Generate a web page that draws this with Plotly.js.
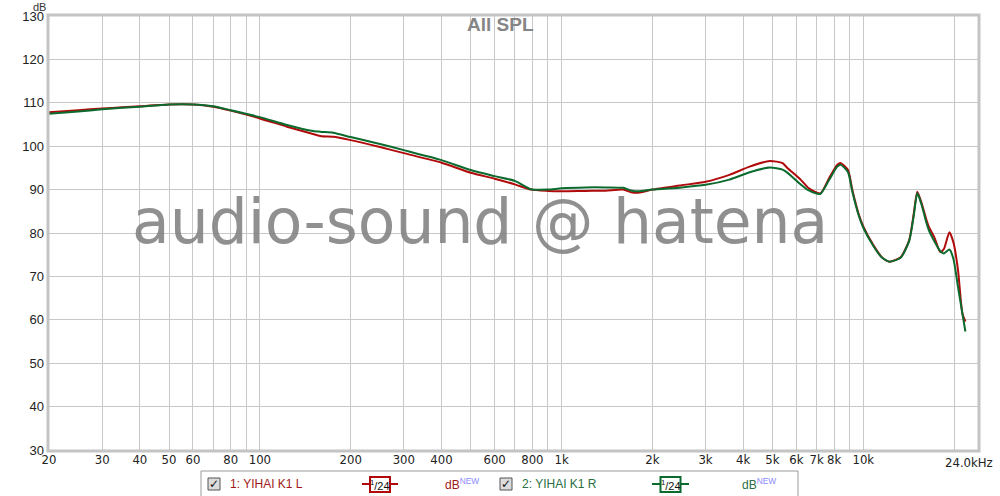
<!DOCTYPE html>
<html>
<head>
<meta charset="utf-8">
<script src="https://cdn.plot.ly/plotly-3.0.1.min.js"></script>
<style>html,body{margin:0;padding:0;background:#fff;}#chart{width:1000px;height:496px;}</style>
</head>
<body>
<div id="chart"></div>
<script>
// ---- data ----
const freqs = [20,25,30,35,40,50,60,70,80,100,123,150,160,175,200,250,300,400,500,600,700,790,900,1000,1200,1400,1600,1700,1800,2000,2500,3000,3600,4200,4900,5400,5600,6200,6600,7200,7700,8200,8430,8900,9200,9640,10000,10800,11500,12200,13300,14200,14700,15100,15600,16200,16500,17200,18000,18500,19300,19900,20600,21300,21800];
const splLeft = [107.8,108.3,108.7,108.95,109.2,109.6,109.6,109.1,108.2,106.4,104.5,102.8,102.3,102.2,101.4,99.8,98.4,96.2,93.9,92.5,91.2,90.0,89.7,89.6,89.7,89.75,90.0,89.4,89.3,90.0,91.0,91.8,93.4,95.3,96.6,96.1,95.0,92.3,90.3,89.1,92.6,95.7,96.1,94.5,89.9,84.5,81.5,77.2,74.5,73.4,74.4,78.4,84.5,89.5,86.9,83.0,81.4,79.0,75.6,76.3,80.2,77.8,71.5,61.5,59.6];
const splRight = [107.5,108.0,108.5,108.85,109.1,109.6,109.6,109.2,108.3,106.7,104.9,103.5,103.3,103.1,102.1,100.5,99.1,96.8,94.5,93.1,92.0,90.1,90.0,90.3,90.5,90.5,90.4,89.8,89.6,90.0,90.5,91.1,92.3,94.0,95.1,94.6,93.9,91.2,89.8,89.0,92.2,95.3,95.7,94.0,89.5,84.2,81.2,77.0,74.4,73.4,74.3,78.2,84.0,89.2,86.5,82.3,80.6,78.1,75.8,75.3,76.2,74.0,67.6,61.5,57.3];
const seriesNames = ["1: YIHAI K1 L", "2: YIHAI K1 R"];
const gridFreqs = [20,30,40,50,60,70,80,90,100,200,300,400,500,600,700,800,900,1000,2000,3000,4000,5000,6000,7000,8000,9000,10000,20000];
const gridLabels = ["20","30","40","50","60","","80","","100","200","300","400","","600","","800","","1k","2k","3k","4k","5k","6k","7k","8k","","10k",""];
const endLabel = "24.0kHz";
const decades = [100,1000,10000];
const yTicks = [30,40,50,60,70,80,90,100,110,120,130];
const titleText = "All SPL";
const watermark = "audio-sound @ hatena";
const unitLabel = "dB";

// ---- geometry helpers (pixel -> paper) ----
const L = 49, R = 978, T = 16, B = 450;
const px = x => (x - L) / (R - L);
const py = y => (B - y) / (B - T);

const RED = '#b00a0a', GREEN = '#0b6a2e';
const REDTXT = '#a01818', GREENTXT = '#2a6e45';
const TICKFONT = 'Liberation Sans Narrow, DejaVu Sans Condensed, Arial Narrow, sans-serif';

const traces = [
  {x: freqs, y: splLeft, name: seriesNames[0], type: 'scatter', mode: 'lines',
   line: {color: RED, width: 2, shape: 'spline', smoothing: 0.6}, showlegend: false, hoverinfo: 'skip'},
  {x: freqs, y: splRight, name: seriesNames[1], type: 'scatter', mode: 'lines',
   line: {color: GREEN, width: 2, shape: 'spline', smoothing: 0.6}, showlegend: false, hoverinfo: 'skip'}
];

const shapes = [];
decades.forEach(f => shapes.push({type: 'line', xref: 'x', yref: 'paper', x0: Math.log10(f), x1: Math.log10(f), y0: 0, y1: 1,
  line: {color: '#8c8c8c', width: 1}, layer: 'below'}));
// plot frame
shapes.push({type: 'rect', xref: 'paper', yref: 'paper', x0: px(L - 1), x1: px(R + 1), y0: py(B + 1), y1: py(T - 1),
  line: {color: '#c4c4c4', width: 3}, layer: 'above'});

// legend box
shapes.push({type: 'rect', xref: 'paper', yref: 'paper', x0: px(201), x1: px(798), y0: py(471), y1: py(498),
  line: {color: '#9a9a9a', width: 1}, fillcolor: '#ffffff'});
const annotations = [];
function checkbox(x) {
  shapes.push({type: 'rect', xref: 'paper', yref: 'paper', x0: px(x), x1: px(x + 12), y0: py(478), y1: py(490),
    line: {color: '#555', width: 1}, fillcolor: '#dcdcdc'});
  annotations.push({xref: 'paper', yref: 'paper', x: px(x + 6), y: py(484), text: '✓', showarrow: false,
    font: {family: 'DejaVu Sans', size: 12, color: '#111'}, xanchor: 'center', yanchor: 'middle'});
}
function smoothBox(x0, x1, color) {
  shapes.push({type: 'line', xref: 'paper', yref: 'paper', x0: px(x0), x1: px(x1), y0: py(484), y1: py(484),
    line: {color: color, width: 2}});
  const c = (x0 + x1) / 2;
  shapes.push({type: 'rect', xref: 'paper', yref: 'paper', x0: px(c - 10), x1: px(c + 10), y0: py(477), y1: py(492),
    line: {color: color, width: 2}, fillcolor: '#ffffff'});
  annotations.push({xref: 'paper', yref: 'paper', x: px(c), y: py(484.5), text: '<sup>1</sup>/24', showarrow: false,
    font: {family: 'Liberation Sans, Arial', size: 11, color: '#111'}, xanchor: 'center', yanchor: 'middle'});
}
checkbox(208);
annotations.push({xref: 'paper', yref: 'paper', x: px(228), y: py(484), xanchor: 'left', yanchor: 'middle', showarrow: false,
  text: seriesNames[0], font: {family: 'Liberation Sans, Arial', size: 12, color: REDTXT}});
smoothBox(362, 398, RED);
annotations.push({xref: 'paper', yref: 'paper', x: px(443), y: py(484), xanchor: 'left', yanchor: 'middle', showarrow: false,
  text: unitLabel + "<sup><span style='color:#8a8aff'>NEW</span></sup>", font: {family: 'Liberation Sans, Arial', size: 12, color: REDTXT}});
checkbox(500);
annotations.push({xref: 'paper', yref: 'paper', x: px(520), y: py(484), xanchor: 'left', yanchor: 'middle', showarrow: false,
  text: seriesNames[1], font: {family: 'Liberation Sans, Arial', size: 12, color: GREENTXT}});
smoothBox(652, 689, GREEN);
annotations.push({xref: 'paper', yref: 'paper', x: px(740), y: py(484), xanchor: 'left', yanchor: 'middle', showarrow: false,
  text: unitLabel + "<sup><span style='color:#8a8aff'>NEW</span></sup>", font: {family: 'Liberation Sans, Arial', size: 12, color: GREENTXT}});

// end-of-axis label
annotations.push({xref: 'paper', yref: 'paper', x: px(995), y: py(462), xanchor: 'right', yanchor: 'middle', showarrow: false,
  text: endLabel, font: {family: TICKFONT, size: 13, color: '#222'}});
// title, unit, watermark
annotations.push({xref: 'paper', yref: 'paper', x: px(500), y: py(25), xanchor: 'center', yanchor: 'middle', showarrow: false,
  text: '<b>' + titleText + '</b>', font: {family: 'Liberation Sans, Arial', size: 19, color: '#858585'}});
annotations.push({xref: 'paper', yref: 'paper', x: px(39), y: py(7), xanchor: 'center', yanchor: 'middle', showarrow: false,
  text: unitLabel, font: {family: 'Liberation Sans, Arial', size: 11, color: '#333'}});
annotations.push({xref: 'paper', yref: 'paper', x: px(480), y: py(222), xanchor: 'center', yanchor: 'middle', showarrow: false,
  text: watermark, font: {family: 'DejaVu Sans', size: 61.5, color: 'rgba(125,125,125,0.85)'}});

const layout = {
  width: 1000, height: 496,
  margin: {l: L, r: 1000 - R, t: T, b: 496 - B, pad: 0},
  paper_bgcolor: '#ffffff', plot_bgcolor: '#ffffff',
  showlegend: false,
  xaxis: {type: 'log', range: [Math.log10(20), Math.log10(24000)], tickmode: 'array', tickvals: gridFreqs, ticktext: gridLabels,
    showgrid: true, gridcolor: '#c8c8c8', gridwidth: 1, zeroline: false, showline: false, ticks: '',
    tickfont: {family: TICKFONT, size: 13, color: '#222'}, fixedrange: true},
  yaxis: {range: [30, 130], tickmode: 'array', tickvals: yTicks, showgrid: true, gridcolor: '#c8c8c8', gridwidth: 1,
    zeroline: false, showline: false, ticks: '', ticklabelstandoff: 4,
    tickfont: {family: 'Liberation Sans, Arial, sans-serif', size: 13, color: '#222'}, fixedrange: true},
  shapes: shapes,
  annotations: annotations
};

Plotly.newPlot('chart', traces, layout, {staticPlot: true, displayModeBar: false});
</script>
</body>
</html>
